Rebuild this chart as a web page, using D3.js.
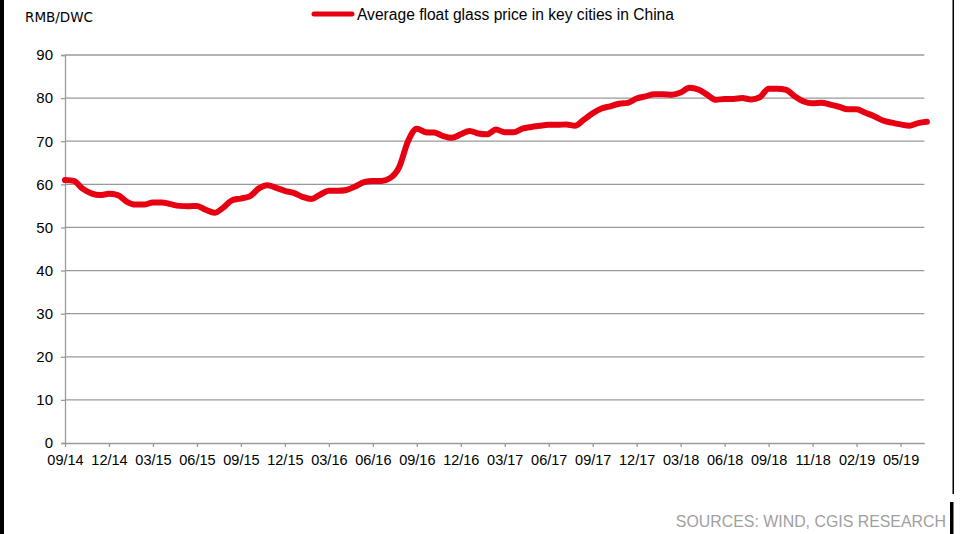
<!DOCTYPE html>
<html>
<head>
<meta charset="utf-8">
<script src="https://cdn.jsdelivr.net/npm/d3@7"></script>
<style>
  body { margin: 0; background: #fff; }
  svg { display: block; }
</style>
</head>
<body>
<div id="chart"></div>
<script>
// Average float glass price, weekly-ish readings (RMB per weight box)
const prices = [
  61.0, 60.8, 59.0, 57.9, 57.5, 57.8, 57.5, 56.0, 55.3, 55.3,
  55.8, 55.8, 55.4, 55.0, 54.9, 55.0, 54.1, 53.4, 54.6, 56.3,
  56.7, 57.2, 59.0, 59.8, 59.2, 58.5, 58.0, 57.1, 56.6, 57.6,
  58.5, 58.5, 58.7, 59.5, 60.5, 60.8, 60.8, 61.5, 64.0, 70.0,
  72.9, 72.1, 72.0, 71.2, 70.8, 71.6, 72.4, 71.8, 71.6, 72.7,
  72.1, 72.1, 72.9, 73.3, 73.6, 73.8, 73.8, 73.9, 73.6, 75.0,
  76.5, 77.6, 78.1, 78.7, 78.9, 79.9, 80.4, 80.9, 80.9, 80.8,
  81.3, 82.4, 82.0, 80.8, 79.6, 79.8, 79.8, 80.0, 79.7, 80.2,
  82.2, 82.2, 81.9, 80.4, 79.2, 78.8, 78.9, 78.5, 78.0, 77.4,
  77.4, 76.6, 75.8, 74.8, 74.3, 73.9, 73.6, 74.2, 74.5
];

const tickLabels = ["09/14", "12/14", "03/15", "06/15", "09/15", "12/15", "03/16",
  "06/16", "09/16", "12/16", "03/17", "06/17", "09/17", "12/17", "03/18",
  "06/18", "09/18", "11/18", "02/19", "05/19"];
const tickEvery = 5;

const yTicks = [0, 10, 20, 30, 40, 50, 60, 70, 80, 90];

const seriesName = "Average float glass price in key cities in China";
const unitLabel = "RMB/DWC";
const sourceText = "SOURCES: WIND, CGIS RESEARCH";

const svgWidth = 960, svgHeight = 534;
const plot = { left: 65, right: 924.3, top: 55, bottom: 443 };

const svg = d3.select("#chart")
  .append("svg")
  .attr("width", svgWidth)
  .attr("height", svgHeight);

svg.append("rect")
  .attr("width", svgWidth)
  .attr("height", svgHeight)
  .attr("fill", "#fff");

// scales
const x = d3.scaleLinear()
  .domain([0, 97.7])
  .range([plot.left, plot.right]);

const y = d3.scaleLinear()
  .domain([0, 90])
  .range([plot.bottom, plot.top]);

// gridlines
svg.append("g")
  .selectAll("line")
  .data(yTicks.filter(d => d > 0))
  .enter()
  .append("line")
  .attr("x1", plot.left)
  .attr("x2", plot.right)
  .attr("y1", d => y(d))
  .attr("y2", d => y(d))
  .attr("stroke", "#9a9a9a")
  .attr("stroke-width", 1.3);

// y axis
const leftAxis = d3.axisLeft(y)
  .tickValues(yTicks)
  .tickSize(4)
  .tickPadding(8);

const yAxis = svg.append("g")
  .attr("transform", `translate(${plot.left},0)`)
  .call(leftAxis);

yAxis.select(".domain").attr("stroke", "#9a9a9a").attr("stroke-width", 1.3);
yAxis.selectAll(".tick line").attr("stroke", "#9a9a9a").attr("stroke-width", 1.3);
yAxis.selectAll(".tick text")
  .attr("font-family", "Liberation Sans, Arial, sans-serif")
  .attr("font-size", "15px")
  .attr("fill", "#000");

// x axis, category ticks every few readings
const xTickValues = tickLabels.map((d, i) => i * tickEvery);
const bottomAxis = d3.axisBottom(x)
  .tickValues(xTickValues)
  .tickFormat((d, i) => tickLabels[i])
  .tickSize(4)
  .tickSizeOuter(0)
  .tickPadding(8);

const xAxis = svg.append("g")
  .attr("transform", `translate(0,${plot.bottom})`)
  .call(bottomAxis);

xAxis.select(".domain").attr("stroke", "#9a9a9a").attr("stroke-width", 1.3);
xAxis.selectAll(".tick line").attr("stroke", "#9a9a9a").attr("stroke-width", 1.3);
xAxis.selectAll(".tick text")
  .attr("font-family", "Liberation Sans, Arial, sans-serif")
  .attr("font-size", "14.5px")
  .attr("fill", "#000");

// price line
const line = d3.line()
  .x((d, i) => x(i))
  .y(d => y(d))
  .curve(d3.curveMonotoneX);

svg.append("path")
  .datum(prices)
  .attr("d", line)
  .attr("fill", "none")
  .attr("stroke", "#e60012")
  .attr("stroke-width", 6)
  .attr("stroke-linejoin", "round")
  .attr("stroke-linecap", "round");

// legend
svg.append("line")
  .attr("x1", 314).attr("x2", 352)
  .attr("y1", 14).attr("y2", 14)
  .attr("stroke", "#e60012")
  .attr("stroke-width", 5)
  .attr("stroke-linecap", "round");

svg.append("text")
  .attr("x", 357)
  .attr("y", 19.5)
  .attr("font-family", "Liberation Sans, Arial, sans-serif")
  .attr("font-size", "15.6px")
  .attr("fill", "#000")
  .text(seriesName);

// unit label
svg.append("text")
  .attr("x", 25)
  .attr("y", 21.5)
  .attr("font-family", "DejaVu Sans, sans-serif")
  .attr("font-size", "13.5px")
  .attr("fill", "#000")
  .text(unitLabel);

// source note
svg.append("text")
  .attr("x", 946)
  .attr("y", 527)
  .attr("text-anchor", "end")
  .attr("font-family", "Liberation Sans, Arial, sans-serif")
  .attr("font-size", "15.9px")
  .attr("fill", "#a0a0a0")
  .text(sourceText);

// frame edges from the original screenshot
svg.append("rect").attr("x", 0).attr("y", 0).attr("width", 4).attr("height", svgHeight).attr("fill", "#000");
svg.append("rect").attr("x", 952.5).attr("y", 0).attr("width", 1.5).attr("height", 494).attr("fill", "#000");
svg.append("rect").attr("x", 950).attr("y", 502).attr("width", 3.5).attr("height", 32).attr("fill", "#000");
</script>
</body>
</html>
